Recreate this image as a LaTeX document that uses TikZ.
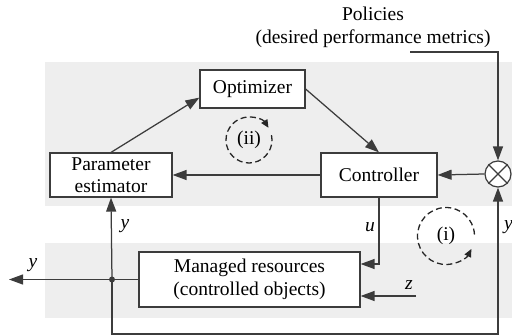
\documentclass[tikz,border=0pt]{standalone}
\usepackage{fontspec}
\setmainfont{Liberation Serif}
\usetikzlibrary{arrows.meta,calc}
\definecolor{band}{HTML}{EEEEEE}
\definecolor{ln}{HTML}{3C3C3C}
\tikzset{
  blk/.style={draw=ln,line width=1.2pt,fill=white,inner sep=0pt,align=center,font=\fontsize{19.5}{22.5}\selectfont},
  lbl/.style={inner sep=0pt,font=\fontsize{19.5}{23}\selectfont\itshape},
  conn/.style={draw=ln,line width=1.25pt,-{Triangle[length=14pt,width=10pt]}},
  loopc/.style={draw=black!85,line width=1.3pt,dash pattern=on 6pt off 3.5pt,-{Triangle[length=8pt,width=7pt]}}
}
\begin{document}
\begin{tikzpicture}[x=1pt,y=-1pt]
\useasboundingbox (0,0) rectangle (512,335);
\fill[band] (45,62) rectangle (512,206);
\fill[band] (45,243) rectangle (512,318);
% blocks
\node[blk,minimum width=105pt,minimum height=38pt] (opt) at (252.5,89) {Optimizer};
\node[blk,minimum width=122pt,minimum height=44pt] (pe) at (111,175) {Parameter\\estimator};
\node[blk,minimum width=116pt,minimum height=44pt] (ctrl) at (379,175) {Controller};
\node[blk,minimum width=221pt,minimum height=55pt] (mr) at (249.5,279.5) {Managed resources\\(controlled objects)};
\node[draw=ln,line width=1.2pt,fill=white,circle,minimum size=26pt,inner sep=0pt] (sum) at (498,174) {};
\draw[ln,line width=1.2pt] (sum.north east) -- (sum.south west) (sum.north west) -- (sum.south east);
\node[inner sep=0pt,align=center,font=\fontsize{19.5}{23}\selectfont] (pol) at (373,27) {Policies\\(desired performance metrics)};
% coordinates
\coordinate (pst) at (410,52);
\coordinate (dot) at (112,279.5);
\coordinate (yout) at (9,279.5);
\coordinate (fb) at (112,334);
\coordinate (zs) at (416,296);
% connectors
\draw[conn] (pe.north) -- ([yshift=11pt]opt.south west);
\draw[conn] (opt.east) -- (ctrl.north);
\draw[conn] (ctrl.west) -- (pe.east);
\draw[conn] (sum.west) -- (ctrl.east);
\draw[conn] (pst) -| (sum.north);
\draw[conn] (ctrl.south) |- ([yshift=15.5pt]mr.east);
\draw[conn] (zs) -- (zs -| mr.east);
\draw[conn] (mr.west) -- (yout);
\draw[conn] (dot) -- (pe.south);
\draw[conn] (dot) -- (fb) -| (sum.south);
\fill[ln] (dot) circle (3pt);
% labels
\node[lbl] (ly1) at (33,265) {y};
\node[lbl] (ly2) at (125,226) {y};
\node[lbl] (lu) at (370,227) {u};
\node[lbl,anchor=west] (ly3) at (504,227) {y};
\node[lbl] (lz) at (409,285) {z};
% loop markers
\node[inner sep=0pt,font=\fontsize{19.5}{23}\selectfont] (l2) at (249,140) {(ii)};
\node[inner sep=0pt,font=\fontsize{19.5}{23}\selectfont] (l1) at (446,236) {(i)};
\draw[loopc] ($(l2)+(-372:23)$) arc[start angle=-372,end angle=-32,radius=23];
\draw[loopc] ($(l1)+(357:28.5)$) arc[start angle=357,end angle=27,radius=28.5];
\end{tikzpicture}
\end{document}
